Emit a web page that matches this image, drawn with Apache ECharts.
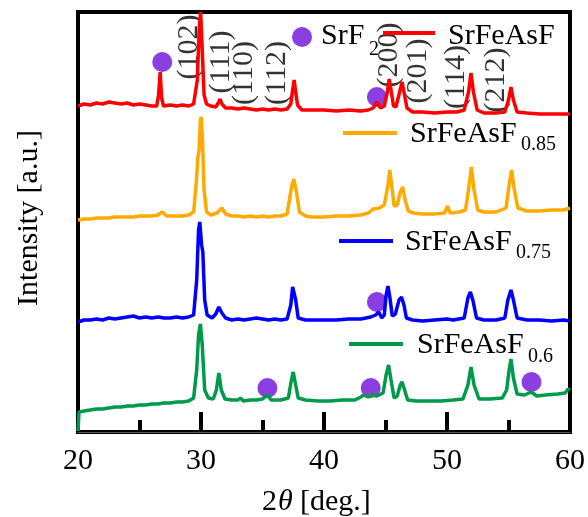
<!DOCTYPE html>
<html>
<head>
<meta charset="utf-8">
<script src="https://cdn.jsdelivr.net/npm/echarts@6/dist/echarts.min.js"></script>
<style>html,body{margin:0;padding:0;background:#fff}#c{width:588px;height:517px}</style>
</head>
<body>
<div id="c"></div>
<div style="position:absolute;left:0;top:0;opacity:0;pointer-events:none;font:30px 'Liberation Serif'">SrFeAsF 2θ [deg.] Intensity 0123456789</div>
<script>
// 2θ (deg) vs intensity (arb. units, curves offset)
var xTicks = [20, 30, 40, 50, 60];
var seriesNames = ['SrFeAsF', 'SrFeAsF0.85', 'SrFeAsF0.75', 'SrFeAsF0.6'];
var dataSrFeAsF = [[20.0,326],[20.5,328],[21.0,327],[21.5,329],[22.0,328],[22.5,330],[23.0,329],[23.5,328],[24.0,329],[24.5,327],[25.0,328],[25.5,327],[26.0,326],[26.4,326],[26.55,337],[26.68,360],[26.8,334],[26.95,326],[27.5,327],[28.0,326],[28.5,327],[29.0,326],[29.4,328],[29.7,352],[29.85,402],[29.97,420],[30.1,382],[30.25,337],[30.45,328],[30.8,326],[31.2,325],[31.45,330],[31.55,333],[31.7,328],[32.0,324],[32.5,324],[33.0,323],[33.5,324],[34.0,323],[34.5,322],[35.0,323],[35.5,322],[36.0,323],[36.5,322],[37.0,323],[37.3,328],[37.45,342],[37.57,352],[37.7,340],[37.85,327],[38.2,322],[39.0,322],[40.0,322],[41.0,321],[42.0,322],[43.0,321],[43.6,322],[44.0,324],[44.3,330],[44.6,324],[44.9,326],[45.15,340],[45.3,353],[45.45,342],[45.65,326],[45.85,325],[46.15,340],[46.35,350],[46.5,340],[46.75,324],[47.2,320],[48.0,320],[49.0,319],[50.0,320],[50.8,320],[51.4,322],[51.75,340],[51.95,359],[52.15,340],[52.45,322],[53.0,319],[54.0,319],[54.7,320],[55.0,332],[55.2,345],[55.4,332],[55.7,320],[56.5,319],[57.5,318],[58.5,318],[59.5,318],[60.0,318]];
var dataSrFeAsF085 = [[20.0,212],[20.5,213],[21.0,213],[21.5,214],[22.0,214],[22.5,214],[23.0,215],[23.5,215],[24.0,215],[24.5,215],[25.0,216],[25.5,216],[26.0,216],[26.5,217],[26.85,220],[27.2,216],[27.8,216],[28.5,216],[29.0,217],[29.4,220],[29.6,247],[29.75,275],[29.85,282],[29.95,312],[30.02,315],[30.12,292],[30.25,242],[30.45,220],[30.8,217],[31.3,219],[31.7,224],[32.0,218],[32.5,216],[33.0,216],[33.5,215],[34.0,216],[34.5,215],[35.0,216],[35.5,215],[36.0,216],[36.5,216],[37.0,218],[37.25,237],[37.4,247],[37.55,253],[37.65,255],[37.8,237],[38.0,220],[38.5,216],[39.0,215],[40.0,215],[41.0,216],[42.0,216],[43.0,217],[43.6,219],[44.0,223],[44.5,224],[44.9,227],[45.2,247],[45.35,262],[45.5,247],[45.7,226],[45.95,227],[46.2,240],[46.4,245],[46.6,232],[46.85,221],[47.3,219],[48.0,218],[49.0,218],[49.8,219],[50.05,226],[50.25,219],[51.0,220],[51.5,222],[51.75,242],[51.98,265],[52.2,242],[52.5,222],[53.0,220],[54.0,220],[54.8,224],[55.05,247],[55.25,262],[55.45,244],[55.75,224],[56.5,221],[57.5,221],[58.5,222],[59.5,222],[60.0,224]];
var dataSrFeAsF075 = [[20.0,110],[20.5,112],[21.0,112],[21.5,113],[22.0,112],[22.5,114],[23.0,113],[23.5,114],[24.0,115],[24.5,116],[25.0,114],[25.5,115],[26.0,114],[26.5,115],[27.0,114],[27.5,114],[28.0,115],[28.5,114],[29.0,115],[29.4,117],[29.65,152],[29.8,202],[29.9,210],[30.05,187],[30.15,180],[30.3,132],[30.5,117],[30.9,114],[31.2,118],[31.45,125],[31.7,119],[32.0,114],[32.5,112],[33.0,113],[33.5,112],[34.0,113],[34.5,114],[35.0,113],[35.5,112],[36.0,113],[36.5,112],[37.0,113],[37.3,127],[37.45,145],[37.55,147],[37.7,132],[37.9,114],[38.5,112],[39.0,112],[40.0,112],[41.0,112],[42.0,113],[43.0,113],[43.8,115],[44.2,117],[44.45,120],[44.7,114],[44.9,117],[45.05,137],[45.2,146],[45.35,135],[45.55,116],[45.8,118],[46.1,132],[46.3,135],[46.5,127],[46.7,114],[47.2,112],[48.0,111],[49.0,112],[50.0,113],[50.5,112],[51.4,114],[51.7,134],[51.9,140],[52.1,132],[52.4,114],[53.0,112],[54.0,112],[54.7,114],[54.95,132],[55.2,142],[55.4,132],[55.7,114],[56.5,112],[57.5,112],[58.5,111],[59.5,112],[60.0,111]];
var dataSrFeAsF06 = [[20.0,1],[20.08,20],[20.5,21],[21.0,22],[21.5,23],[22.0,23],[22.5,24],[23.0,25],[23.5,25],[24.0,26],[24.5,26],[25.0,27],[25.5,27],[26.0,28],[26.5,28],[27.0,29],[27.5,29],[28.0,30],[28.5,30],[29.0,31],[29.4,34],[29.65,62],[29.8,97],[29.95,108],[30.1,87],[30.3,42],[30.6,34],[31.0,33],[31.25,42],[31.45,59],[31.65,42],[31.95,33],[32.5,32],[33.0,32],[33.2,34],[33.45,31],[34.0,32],[34.5,32],[35.0,33],[35.4,37],[35.7,32],[36.5,32],[37.1,34],[37.35,52],[37.5,60],[37.65,50],[37.9,34],[38.5,32],[39.5,31],[40.5,31],[41.5,32],[42.5,32],[43.0,35],[43.2,37],[43.6,35],[43.9,37],[44.3,36],[44.8,39],[45.05,57],[45.25,67],[45.45,52],[45.7,34],[45.95,36],[46.2,47],[46.35,50],[46.55,42],[46.8,32],[47.5,31],[48.5,31],[49.5,31],[50.5,32],[51.3,33],[51.7,47],[51.95,65],[52.2,47],[52.6,33],[53.5,33],[54.5,34],[54.85,42],[55.05,62],[55.2,73],[55.4,54],[55.7,38],[56.3,37],[56.85,40],[57.3,36],[58.0,37],[59.0,38],[59.6,39],[59.85,43],[60.0,42]];
// SrF2 impurity markers [2θ, intensity]
var srf2Marks = [[26.85,370],[44.3,335],[44.3,130],[35.4,44],[43.8,44],[56.87,50]];
// Miller index labels [text, 2θ, intensity]
var millerLabels = [['(102)',29.07,385],['(111)',31.64,370],['(110)',33.52,359],['(112)',36.19,359],['(200)',45.32,377],['(201)',47.69,361],['(114)',50.77,355],['(212)',54.0,352]];

var SERIF = 'Liberation Serif';
var lineColors = ['#ff0000', '#ffaa00', '#0000ff', '#009a4a'];
var purple = '#8c3fe0';
var datasets = [dataSrFeAsF, dataSrFeAsF085, dataSrFeAsF075, dataSrFeAsF06];

var myChart = echarts.init(document.getElementById('c'));
var allSeries = datasets.map(function (d, i) {
  return { name: seriesNames[i], type: 'line', data: d, showSymbol: false,
    lineStyle: { color: lineColors[i], width: 3.5 }, itemStyle: { color: lineColors[i] } };
});
allSeries.push({ type: 'scatter', data: srf2Marks, symbolSize: 20, itemStyle: { color: purple, opacity: 1 } });
allSeries.push({ type: 'scatter', symbolSize: 1, itemStyle: { color: 'rgba(0,0,0,0)' },
  data: millerLabels.map(function (m) { return { name: m[0], value: [m[1], m[2]] }; }),
  label: { show: true, position: 'inside', rotate: 90, formatter: '{b}', fontFamily: SERIF, fontSize: 30, color: '#000' } });

function gtext(text, x, y, size, extra) {
  var st = { text: text, fontFamily: SERIF, fontSize: size, fill: '#000', textAlign: 'left', textVerticalAlign: 'middle' };
  if (extra) for (var k in extra) st[k] = extra[k];
  return { type: 'text', x: x, y: y, style: st, z: 100 };
}
function gline(x1, x2, y, color) {
  return { type: 'line', shape: { x1: x1, y1: y, x2: x2, y2: y }, style: { stroke: color, lineWidth: 4 }, z: 100 };
}

var option = {
  animation: false,
  grid: { left: 78, right: 16, top: 12, bottom: 85, show: true, borderColor: '#000', borderWidth: 4 },
  xAxis: {
    type: 'value', min: 20, max: 60, interval: 10,
    axisTick: { show: true, inside: true, length: 20, lineStyle: { color: '#000', width: 4 } },
    minorTick: { show: true, splitNumber: 2, length: 12, lineStyle: { color: '#000', width: 4 } },
    splitLine: { show: false },
    axisLabel: { fontFamily: SERIF, fontSize: 30, color: '#000', margin: 14 }
  },
  yAxis: { type: 'value', min: 0, max: 420, show: false },
  series: allSeries,
  graphic: [
    { type: 'circle', shape: { cx: 302, cy: 37, r: 10 }, style: { fill: purple }, z: 100 },
    gtext('SrF', 321, 36, 30), gtext('2', 369, 50, 20),
    gline(383, 435, 33, lineColors[0]), gtext('SrFeAsF', 448, 36, 30),
    gline(343, 397, 133, lineColors[1]), gtext('SrFeAsF', 410, 134, 30), gtext('0.85', 521, 145, 20),
    gline(339, 393, 241, lineColors[2]), gtext('SrFeAsF', 405, 242, 30), gtext('0.75', 516, 253, 20),
    gline(349, 403, 344, lineColors[3]), gtext('SrFeAsF', 417, 345, 30), gtext('0.6', 528, 357, 20),
    gtext('2', 262, 502, 30), gtext('θ', 278, 502, 30, { fontStyle: 'italic' }), gtext('[deg.]', 300, 502, 30),
    { type: 'text', x: 29, y: 218, rotation: Math.PI / 2, style: { text: 'Intensity [a.u.]', fontFamily: SERIF, fontSize: 30, fill: '#000', textAlign: 'center', textVerticalAlign: 'middle' }, z: 100 }
  ]
};
myChart.setOption(option);
if (document.fonts && document.fonts.ready) {
  document.fonts.ready.then(function () { myChart.setOption(option, true); });
}
</script>
</body>
</html>
